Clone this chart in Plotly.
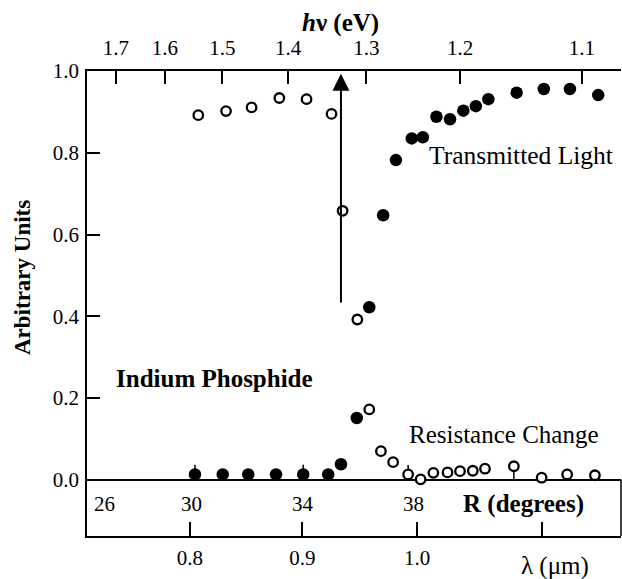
import plotly.graph_objects as go

# ---------------- data (horizontal coordinate = grating angle R, degrees) ----------------
trans_open_R = [30.23, 31.23, 32.15, 33.15, 34.13, 35.03, 35.43, 35.96]
trans_open_v = [0.892, 0.902, 0.911, 0.934, 0.931, 0.895, 0.658, 0.392]

trans_fill_R = [36.39, 36.89, 37.35, 37.92, 38.32, 38.81, 39.30, 39.78,
                40.23, 40.68, 41.70, 42.68, 43.62, 44.64]
trans_fill_v = [0.422, 0.647, 0.782, 0.835, 0.838, 0.888, 0.882, 0.903,
                0.914, 0.931, 0.947, 0.956, 0.956, 0.941]

res_fill_R = [30.11, 31.11, 32.03, 33.03, 34.01, 34.91, 35.37, 35.94]
res_fill_v = [0.013, 0.013, 0.013, 0.013, 0.013, 0.013, 0.038, 0.151]
res_fill_err_up = [0.024, 0, 0, 0, 0.024, 0, 0, 0]

res_open_R = [36.39, 36.81, 37.25, 37.79, 38.24, 38.70, 39.21, 39.66,
              40.12, 40.56, 41.60, 42.60, 43.52, 44.52]
res_open_v = [0.172, 0.070, 0.043, 0.013, 0.001, 0.017, 0.018, 0.021,
              0.022, 0.027, 0.033, 0.005, 0.013, 0.011]
res_open_err_up = [0, 0, 0, 0.023, 0, 0, 0, 0, 0, 0, 0, 0, 0, 0]
res_open_err_dn = [0, 0, 0, 0, 0, 0, 0, 0, 0, 0, 0.033, 0, 0, 0]

# axis tick labels and their positions on the R scale
lambda_tick_R = [29.93, 33.98, 38.11, 42.61]
lambda_tick_text = ["0.8", "0.9", "1.0", ""]
hv_tick_R = [27.26, 29.03, 31.10, 33.47, 36.29, 39.66, 44.05]
hv_tick_text = ["1.7", "1.6", "1.5", "1.4", "1.3", "1.2", "1.1"]
R_labels = [26, 30, 34, 38]
y_ticks = [0.0, 0.2, 0.4, 0.6, 0.8, 1.0]

# arrow marking the band edge
arrow_R = 35.37
arrow_from = 0.43
arrow_to = 0.993

x_range = [26.22, 45.46]
y_range = [-0.1376, 1.0]

W, H = 622, 579
L, R, T, B = 87, 1, 71, 43
FONT = "Liberation Serif"


def px(x):
    return (x - L) / (W - L - R)


def py(y):
    return (H - B - y) / (H - B - T)


fig = go.Figure()

fig.add_trace(go.Scatter(
    x=res_fill_R, y=res_fill_v, mode="markers",
    marker=dict(symbol="circle", size=12.5, color="black"),
    error_y=dict(type="data", array=res_fill_err_up, arrayminus=[0] * len(res_fill_R),
                 symmetric=False, width=0, thickness=1.5, color="black"),
    showlegend=False))
fig.add_trace(go.Scatter(
    x=res_open_R, y=res_open_v, mode="markers",
    marker=dict(symbol="circle", size=9.5, color="white", line=dict(color="black", width=2.3)),
    error_y=dict(type="data", array=res_open_err_up, arrayminus=res_open_err_dn,
                 symmetric=False, width=0, thickness=1.5, color="black"),
    showlegend=False))
fig.add_trace(go.Scatter(
    x=trans_open_R, y=trans_open_v, mode="markers",
    marker=dict(symbol="circle", size=9.5, color="white", line=dict(color="black", width=2.3)),
    showlegend=False))
fig.add_trace(go.Scatter(
    x=trans_fill_R, y=trans_fill_v, mode="markers",
    marker=dict(symbol="circle", size=12.5, color="black"),
    showlegend=False))
# invisible trace to activate top axis
fig.add_trace(go.Scatter(x=[x_range[0]], y=[0.5], xaxis="x2", mode="markers",
                         marker=dict(opacity=0), showlegend=False, hoverinfo="skip"))

tickfont = dict(family=FONT, size=21, color="black")

fig.update_layout(
    width=W, height=H,
    margin=dict(l=L, r=R, t=T, b=B, autoexpand=False),
    paper_bgcolor="white", plot_bgcolor="white",
    xaxis=dict(range=x_range, showgrid=False, zeroline=False, automargin=False,
               showline=True, linecolor="black", linewidth=1.5,
               ticks="inside", ticklen=14, tickwidth=1.5, tickcolor="black",
               tickvals=lambda_tick_R, ticktext=lambda_tick_text,
               tickfont=tickfont, ticklabelstandoff=2),
    xaxis2=dict(range=x_range, overlaying="x", side="top", showgrid=False, zeroline=False,
                automargin=False,
                showline=True, linecolor="black", linewidth=1.5,
                ticks="inside", ticklen=13, tickwidth=1.5, tickcolor="black",
                tickvals=hv_tick_R, ticktext=hv_tick_text,
                tickfont=tickfont, ticklabelstandoff=6),
    yaxis=dict(range=y_range, showgrid=False, automargin=False,
               zeroline=True, zerolinecolor="black", zerolinewidth=1.5,
               showline=True, linecolor="black", linewidth=1.5,
               ticks="inside", ticklen=13, tickwidth=1.5, tickcolor="black",
               tickvals=y_ticks, ticktext=[f"{v:.1f}" for v in y_ticks],
               tickfont=tickfont, ticklabelstandoff=2),
)

# right edge of the lower R-scale box
fig.add_shape(type="line", xref="paper", yref="y", x0=1, x1=1, y0=y_range[0], y1=0,
              line=dict(color="black", width=1.5))

ann = []
ann.append(dict(x=arrow_R, y=arrow_to, ax=arrow_R, ay=arrow_from, xref="x", yref="y",
                axref="x", ayref="y", showarrow=True, arrowhead=2, arrowsize=1.7,
                arrowwidth=2, arrowcolor="black", text=""))

for r in R_labels:
    if r == R_labels[0]:
        ann.append(dict(x=x_range[0], y=py(504), xref="x", yref="paper", text=str(r),
                        showarrow=False, xanchor="left", yanchor="middle", xshift=5,
                        font=tickfont))
    else:
        ann.append(dict(x=r, y=py(504), xref="x", yref="paper", text=str(r),
                        showarrow=False, xanchor="center", yanchor="middle", font=tickfont))

big = dict(family=FONT, size=25, color="black")


def label(xp, yp, text, font=big, angle=0):
    return dict(x=px(xp), y=py(yp), xref="paper", yref="paper", text=text,
                showarrow=False, xanchor="center", yanchor="middle",
                textangle=angle, font=font)


ann += [
    label(523, 504, "<b>R (degrees)</b>"),
    label(555, 566, "λ (μm)"),
    label(340, 23, "<b><i>h</i>ν (eV)</b>"),
    label(22, 278, "<b>Arbitrary Units</b>", dict(family=FONT, size=23, color="black"), -90),
    label(214, 378, "<b>Indium Phosphide</b>"),
    label(521, 155, "Transmitted Light", dict(family=FONT, size=25.5, color="black")),
    label(504, 434, "Resistance Change"),
]
fig.update_layout(annotations=ann)

fig.write_html("out.html", config={"displayModeBar": False},
               post_script="document.body.style.margin='0';")
